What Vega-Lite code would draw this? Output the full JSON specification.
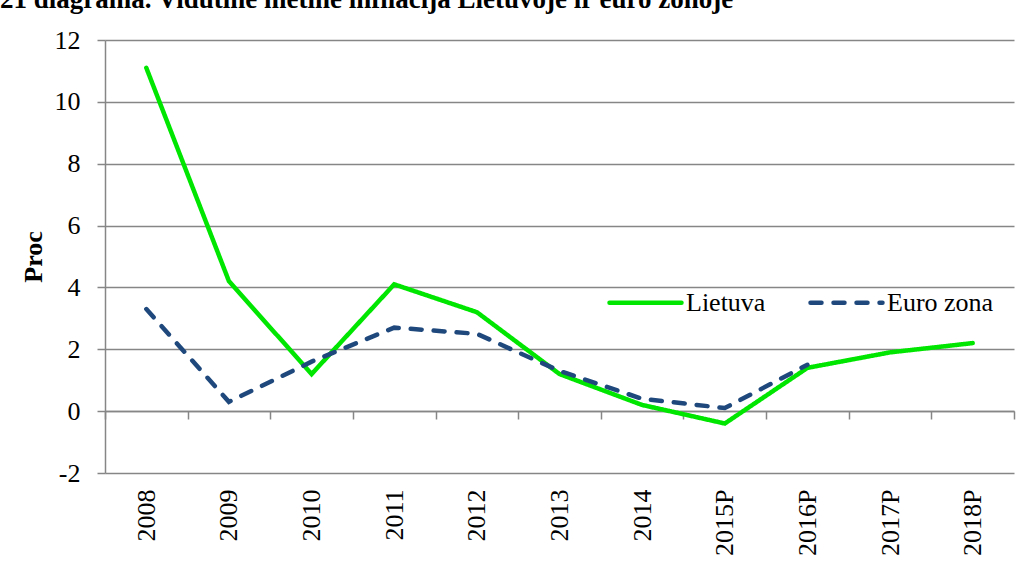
{
  "$schema": "https://vega.github.io/schema/vega-lite/v6.json",
  "width": 909,
  "height": 433,
  "autosize": {"type": "none"},
  "padding": {"left": 105, "top": 40, "right": 20, "bottom": 88},
  "background": "white",
  "title": {
    "text": "21 diagrama. Vidutinė metinė infliacija Lietuvoje ir euro zonoje",
    "anchor": "start",
    "frame": "group",
    "font": "Liberation Serif",
    "fontSize": 27,
    "fontWeight": "bold",
    "color": "black",
    "baseline": "alphabetic",
    "offset": 12,
    "dx": -105,
    "dy": 20
  },
  "config": {
    "view": {"stroke": null},
    "axis": {"labelFont": "Liberation Serif", "labelColor": "black", "titleFont": "Liberation Serif", "titleColor": "black"}
  },
  "data": {
    "values": [
      {"year": "2008", "series": "Lietuva", "value": 11.1},
      {"year": "2009", "series": "Lietuva", "value": 4.2},
      {"year": "2010", "series": "Lietuva", "value": 1.2},
      {"year": "2011", "series": "Lietuva", "value": 4.1},
      {"year": "2012", "series": "Lietuva", "value": 3.2},
      {"year": "2013", "series": "Lietuva", "value": 1.2},
      {"year": "2014", "series": "Lietuva", "value": 0.2},
      {"year": "2015P", "series": "Lietuva", "value": -0.4},
      {"year": "2016P", "series": "Lietuva", "value": 1.4},
      {"year": "2017P", "series": "Lietuva", "value": 1.9},
      {"year": "2018P", "series": "Lietuva", "value": 2.2},
      {"year": "2008", "series": "Euro zona", "value": 3.3},
      {"year": "2009", "series": "Euro zona", "value": 0.3},
      {"year": "2010", "series": "Euro zona", "value": 1.6},
      {"year": "2011", "series": "Euro zona", "value": 2.7},
      {"year": "2012", "series": "Euro zona", "value": 2.5},
      {"year": "2013", "series": "Euro zona", "value": 1.3},
      {"year": "2014", "series": "Euro zona", "value": 0.4},
      {"year": "2015P", "series": "Euro zona", "value": 0.1},
      {"year": "2016P", "series": "Euro zona", "value": 1.5}
    ]
  },
  "mark": {"type": "line", "strokeWidth": 4.5, "strokeCap": "round"},
  "encoding": {
    "x": {
      "field": "year",
      "type": "ordinal",
      "sort": null,
      "scale": {"paddingInner": 0, "paddingOuter": 0},
      "axis": {
        "title": null,
        "offset": -62,
        "labelAngle": -90,
        "labelFontSize": 26,
        "labelPadding": 70,
        "labelAlign": "right",
        "labelBaseline": "middle",
        "tickBand": "extent",
        "ticks": true,
        "tickSize": 8,
        "tickColor": "#868686",
        "tickWidth": 1.5,
        "domainColor": "#868686",
        "domainWidth": 1.5,
        "grid": false
      }
    },
    "y": {
      "field": "value",
      "type": "quantitative",
      "scale": {"domain": [-2, 12], "nice": false, "zero": false},
      "axis": {
        "title": "Proc",
        "titleFontSize": 26,
        "titleFontWeight": "bold",
        "titlePadding": 8,
        "values": [-2, 0, 2, 4, 6, 8, 10, 12],
        "labelExpr": "'' + datum.value",
        "labelFontSize": 26,
        "labelPadding": 17,
        "tickSize": 8,
        "tickColor": "#868686",
        "tickWidth": 1.5,
        "domainColor": "#868686",
        "domainWidth": 1.5,
        "grid": true,
        "gridColor": "#868686",
        "gridWidth": 1.5
      }
    },
    "color": {
      "field": "series",
      "type": "nominal",
      "scale": {"domain": ["Lietuva", "Euro zona"], "range": ["#00E600", "#1F497D"]},
      "legend": {
        "title": null,
        "orient": "none",
        "legendX": 502,
        "legendY": 224,
        "direction": "horizontal",
        "symbolType": "stroke",
        "symbolSize": 5184,
        "symbolStrokeWidth": 4.5,
        "labelFont": "Liberation Serif",
        "labelFontSize": 26,
        "labelColor": "black",
        "labelOffset": 2,
        "columnPadding": 35,
        "labelLimit": 300,
        "encode": {"symbols": {"update": {"strokeCap": {"value": "round"}}}}
      }
    },
    "strokeDash": {
      "field": "series",
      "type": "nominal",
      "scale": {"domain": ["Lietuva", "Euro zona"], "range": [[1, 0], [11, 12]]},
      "legend": null
    }
  }
}
